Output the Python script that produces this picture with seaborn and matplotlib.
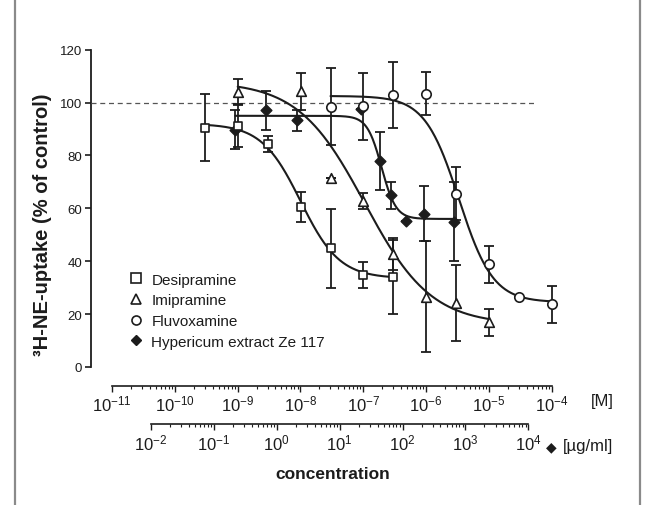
import numpy as np
import pandas as pd
import matplotlib
matplotlib.use("Agg")
import matplotlib.pyplot as plt
from matplotlib.lines import Line2D
from matplotlib.ticker import FixedLocator, FuncFormatter, LogLocator, NullFormatter
import seaborn as sns

# ---- measured uptake (% of control, mean and error) ----
desi_conc = [3e-10, 1e-9, 3e-9, 1e-8, 3e-8, 1e-7, 3e-7]          # M
desi_uptake = [90.5, 91.3, 84.5, 60.5, 44.9, 34.8, 34.1]
desi_err = [12.7, 8.0, 3.0, 5.5, 15.0, 4.8, 14.0]

imi_conc = [1e-9, 1e-8, 3e-8, 1e-7, 3e-7, 1e-6, 3e-6, 1e-5]       # M
imi_uptake = [103.9, 104.3, 71.3, 62.8, 42.8, 26.5, 24.2, 16.9]
imi_err = [5.0, 7.0, 0.0, 3.0, 6.0, 21.0, 14.5, 5.0]

fluv_conc = [3e-8, 1e-7, 3e-7, 1e-6, 3e-6, 1e-5, 3e-5, 1e-4]      # M
fluv_uptake = [98.4, 98.6, 102.9, 103.4, 65.5, 38.9, 26.3, 23.8]
fluv_err = [14.5, 12.6, 12.5, 8.0, 10.0, 7.0, 0.0, 7.0]

hyp_conc = [0.22, 0.68, 2.1, 22, 44, 65, 115, 220, 660]           # ug/ml
hyp_uptake = [89.8, 97.1, 93.3, 97.5, 77.9, 64.9, 55.2, 58.0, 55.0]
hyp_err = [7.5, 7.3, 4.0, 0.0, 11.0, 5.0, 0.0, 10.3, 15.0]

# sigmoidal fits: top, bottom, log10 IC50, Hill slope
desi_fit = [92.0, 33.5, -8.0, 1.4]
imi_fit = [108.0, 16.0, -6.98, 0.82]
fluv_fit = [102.5, 24.5, -5.48, 1.6]
hyp_fit = [95.0, 56.0, 1.67, 3.8]

labels = ["Desipramine", "Imipramine", "Fluvoxamine", "Hypericum extract Ze 117"]
molar_ticks = [-11, -10, -9, -8, -7, -6, -5, -4]
mass_ticks = [-2, -1, 0, 1, 2, 3, 4]
control_level = 100
control_end = 5.5e-5

sns.set_theme(style="ticks")
plt.rcParams["font.family"] = ["Liberation Sans", "DejaVu Sans"]
plt.rcParams["mathtext.default"] = "regular"

INK = "#1c1c1c"
W, H = 656, 506
PX_DEC = 62.85

fig = plt.figure(figsize=(W / 100, H / 100), dpi=100)
fig.patch.set_facecolor("white")


def box(l, t, r, b):
    return [l / W, 1 - b / H, (r - l) / W, (b - t) / H]


L, T, R, B = 90.7, 50.7, 560.0, 368.0
ax = fig.add_axes(box(L, T, R, B))          # ug/ml scale (extract)
axm = ax.twiny()                            # molar scale (reference drugs)

ax.set_xscale("log")
axm.set_xscale("log")
ax.set_xlim(10 ** (-2 + (L - 150.9) / PX_DEC), 10 ** (-2 + (R - 150.9) / PX_DEC))
axm.set_xlim(10 ** (-11 + (L - 112.0) / PX_DEC), 10 ** (-11 + (R - 112.0) / PX_DEC))
ax.set_ylim(0, 120)

for a in (ax, axm):
    a.set_facecolor("none")
    a.grid(False)
    for s in ("top", "right", "bottom"):
        a.spines[s].set_visible(False)
    a.tick_params(axis="x", which="both", top=False, bottom=False,
                  labeltop=False, labelbottom=False)
axm.spines["left"].set_visible(False)
axm.tick_params(axis="y", left=False, labelleft=False)

ax.spines["left"].set_color(INK)
ax.spines["left"].set_linewidth(1.3)
ax.set_yticks(range(0, 121, 20))
ax.tick_params(axis="y", direction="out", length=4, width=1.2, color=INK,
               labelsize=9.5, labelcolor=INK, pad=2)


def logistic(x, p):
    top, bottom, c, h = p
    return bottom + (top - bottom) / (1 + 10 ** (h * (x - c)))


def fitted(conc, p):
    lx = np.linspace(np.log10(min(conc)), np.log10(max(conc)), 300)
    return pd.DataFrame({"conc": 10 ** lx, "uptake": logistic(lx, p)})


# control level
axm.plot([axm.get_xlim()[0], control_end], [control_level] * 2, ls=(0, (4, 3)),
         lw=0.9, color="#555555", zorder=1)

# extract (drawn first, beneath the drugs)
sns.lineplot(data=fitted(hyp_conc, hyp_fit), x="conc", y="uptake", ax=ax,
             color=INK, lw=1.5, zorder=2)
ax.errorbar(hyp_conc, hyp_uptake, yerr=hyp_err, fmt="none", ecolor=INK,
            elinewidth=1.3, capsize=3.5, capthick=1.3, zorder=2)
sns.scatterplot(x=hyp_conc, y=hyp_uptake, marker="D", s=30, color=INK,
                edgecolor=INK, linewidth=1.0, ax=ax, zorder=3)

series = [
    (desi_conc, desi_uptake, desi_err, desi_fit, "s", 38),
    (imi_conc, imi_uptake, imi_err, imi_fit, "^", 48),
    (fluv_conc, fluv_uptake, fluv_err, fluv_fit, "o", 46),
]
for conc, up, err, fit, mk, size in series:
    sns.lineplot(data=fitted(conc, fit), x="conc", y="uptake", ax=axm,
                 color=INK, lw=1.5, zorder=4)
    axm.errorbar(conc, up, yerr=err, fmt="none", ecolor=INK, elinewidth=1.3,
                 capsize=3.5, capthick=1.3, zorder=4)
    sns.scatterplot(x=conc, y=up, marker=mk, s=size, facecolor="white",
                    edgecolor=INK, linewidth=1.2, ax=axm, zorder=5)

for a in (ax, axm):
    a.set_xlabel("")
axm.set_ylabel("")
ax.set_ylabel("³H-NE-uptake (% of control)", fontsize=14.5, fontweight="bold", color=INK)
ax.yaxis.set_label_coords((52 - L) / (R - L), (B - 225) / (B - T))

# legend
handles = [
    Line2D([], [], ls="none", marker="s", ms=6.5, mfc="white", mec=INK, mew=1.2),
    Line2D([], [], ls="none", marker="^", ms=7.5, mfc="white", mec=INK, mew=1.2),
    Line2D([], [], ls="none", marker="o", ms=6.5, mfc="white", mec=INK, mew=1.2),
    Line2D([], [], ls="none", marker="D", ms=5.5, mfc=INK, mec=INK, mew=1.0),
]
fig.legend(handles, labels, loc="upper left", bbox_to_anchor=(128.4 / W, 1 - 273.5 / H),
           frameon=False, fontsize=11, handlelength=1.0, handletextpad=0.5,
           labelspacing=0.44, borderpad=0, borderaxespad=0, labelcolor=INK)


# concentration scales below the plot
def scale_axis(l, r, y, lo, hi, ticks):
    a = fig.add_axes([l / W, 1 - y / H, (r - l) / W, 0.0001])
    a.set_facecolor("none")
    for s in ("top", "left", "right"):
        a.spines[s].set_visible(False)
    a.spines["bottom"].set_color(INK)
    a.spines["bottom"].set_linewidth(1.2)
    a.set_yticks([])
    a.set_xscale("log")
    a.set_xlim(10.0 ** lo, 10.0 ** hi)
    a.xaxis.set_major_locator(FixedLocator([10.0 ** t for t in ticks]))
    a.xaxis.set_major_formatter(FuncFormatter(lambda v, p: r"$10^{%d}$" % round(np.log10(v))))
    a.xaxis.set_minor_locator(LogLocator(base=10, subs=np.arange(2, 10), numticks=20))
    a.xaxis.set_minor_formatter(NullFormatter())
    a.tick_params(axis="x", which="major", direction="out", length=4.5, width=1.0,
                  color=INK, labelsize=12, labelcolor=INK, pad=1.5)
    a.tick_params(axis="x", which="minor", direction="out", length=2.5, width=0.8, color=INK)
    a.grid(False)
    return a


scale_axis(112.0, 551.6, 386.5, -11, -4, molar_ticks)
scale_axis(150.9, 528.4, 425.0, -2, 4, mass_ticks)

fig.text(602 / W, 1 - 402 / H, "[M]", fontsize=12, color=INK, ha="center", va="center")
fig.text(546 / W, 1 - 447 / H, "◆", fontsize=10, color=INK, ha="left", va="center",
         family=["DejaVu Sans"])
fig.text(563 / W, 1 - 447 / H, "[µg/ml]", fontsize=12, color=INK, ha="left", va="center")
fig.text(332.7 / W, 1 - 474.5 / H, "concentration", fontsize=12.5, fontweight="bold",
         color=INK, ha="center", va="center")

# page frame
for xp in (15, 640):
    fig.add_artist(Line2D([xp / W, xp / W], [0, 1], transform=fig.transFigure,
                          color="#8a8a8a", lw=1.6))

fig.savefig("out.png", dpi=100, facecolor="white")
